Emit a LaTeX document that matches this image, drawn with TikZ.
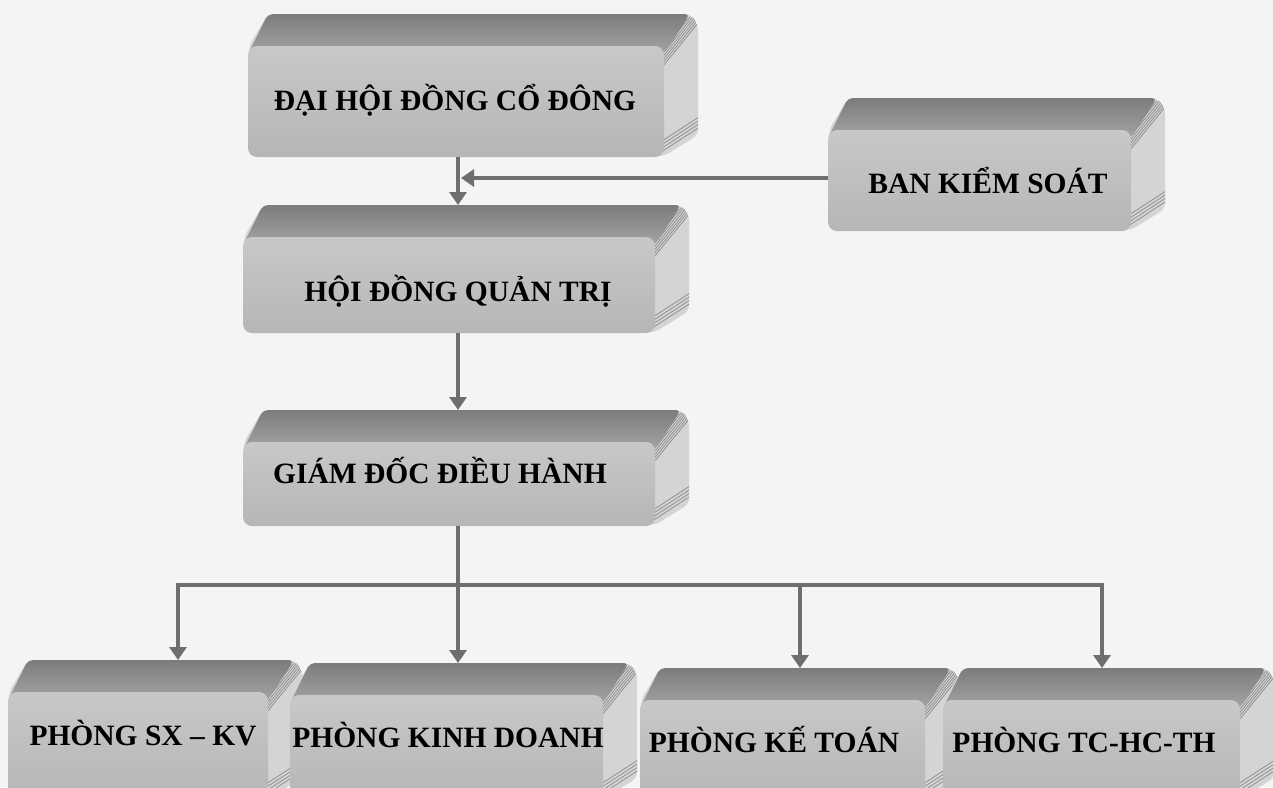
\documentclass[tikz,border=0pt]{standalone}
\usepackage{fontspec}
\setmainfont{Liberation Serif}
\usetikzlibrary{arrows.meta}
\definecolor{bgc}{HTML}{F4F4F2}
\definecolor{fronttop}{HTML}{C8C8C8}
\definecolor{frontbot}{HTML}{B6B6B6}
\definecolor{toptop}{HTML}{7C7C7C}
\definecolor{topbot}{HTML}{A4A4A4}
\definecolor{sidec}{HTML}{D4D4D4}
\definecolor{stripec}{HTML}{8A8A8A}
\definecolor{arrowc}{HTML}{6E6E6E}
\tikzset{
  sideface/.style={fill=sidec},
  topface/.style={top color=toptop, bottom color=topbot, draw=none},
  frontface/.style={top color=fronttop, bottom color=frontbot, rounded corners=9pt},
  stripe/.style={draw=stripec, line width=0.7pt},
  boxnode/.style={inner sep=0pt, outer sep=0pt, draw=none},
  lbl/.style={anchor=base, inner sep=0pt, font=\fontsize{29.5}{34}\selectfont\bfseries, text=black},
  conn/.style={draw=arrowc, line width=4.5pt},
  arr/.style={conn, -{Triangle[width=17pt,length=13pt]}},
}
% #1 name, #2 x1, #3 y1 (front top), #4 x2, #5 y2 (front bottom)
\newcommand{\bevelbox}[5]{%
  \begin{scope}
    \path[sideface,rounded corners=6pt] (#2+1,#5-1) -- (#2+1,#3) -- (#2+20,#3-32) -- (#4+26,#3-32) -- (#4+34,#3-22) -- (#4+34,#5-22) -- (#4,#5-1) -- cycle;
    \clip[rounded corners=6pt] (#4-4,#5) -- (#4-4,#3) -- (#4+26,#3-32) -- (#4+34,#3-22) -- (#4+34,#5-22) -- (#4,#5) -- cycle;
    \foreach \k in {1,...,6} \draw[stripe] (#4-6,{#3+3.2*\k+7}) -- ++(44,-54);
    \foreach \k in {1,...,4} \draw[stripe] (#4-2,{#5-3.5*\k-2}) -- ++(40,-26);
  \end{scope}
  \path[topface,rounded corners=5pt] (#2,#3+8) -- (#2+20,#3-32) -- (#4+26,#3-32) -- (#4,#3+8) -- cycle;
  \path[frontface] (#2,#3) rectangle (#4,#5);
  \node[boxnode, minimum width={#4+34-(#2)}, minimum height={#5-(#3)+32}] (#1) at ({(#2+#4+34)/2},{(#3+#5-32)/2}) {};
}
\begin{document}
\begin{tikzpicture}[x=1pt,y=-1pt]
  \useasboundingbox (0,0) rectangle (1273,787);
  \fill[bgc] (0,0) rectangle (1273,787);
  \begin{scope}
  \clip (0,0) rectangle (1273,787);
  % boxes
  \bevelbox{b1}{248}{46}{664}{157}
  \bevelbox{b2}{828}{130}{1131}{231}
  \bevelbox{b3}{243}{237}{655}{333}
  \bevelbox{b4}{243}{442}{655}{526}
  \bevelbox{bA}{8}{692}{268}{800}
  \bevelbox{bB}{290}{695}{603}{800}
  \bevelbox{bC}{640}{700}{925}{800}
  \bevelbox{bD}{943}{700}{1240}{800}
  % labels
  \node[lbl] (b1t) at (455,110) {ĐẠI HỘI ĐỒNG CỔ ĐÔNG};
  \node[lbl] (b2t) at (988,193) {BAN KIỂM SOÁT};
  \node[lbl] (b3t) at (458,301) {HỘI ĐỒNG QUẢN TRỊ};
  \node[lbl] (b4t) at (440,483) {GIÁM ĐỐC ĐIỀU HÀNH};
  \node[lbl] (bAt) at (143,745) {PHÒNG SX – KV};
  \node[lbl] (bBt) at (448,747) {PHÒNG KINH DOANH};
  \node[lbl] (bCt) at (774,752) {PHÒNG KẾ TOÁN};
  \node[lbl] (bDt) at (1084,752) {PHÒNG TC-HC-TH};
  % connector helpers
  \coordinate (spine) at (458,0);
  \coordinate (k) at (461,178);
  \coordinate (jA) at (178,585);
  \coordinate (jB) at (458,585);
  \coordinate (jC) at (800,585);
  \coordinate (jD) at (1102,585);
  % connectors
  \draw[arr] (b1.south -| spine) -- (b3.north -| spine);
  \draw[arr] (b2.west |- k) -- (k);
  \draw[arr] (b3.south -| spine) -- (b4.north -| spine);
  \draw[conn] (b4.south -| spine) -- (jB);
  \draw[conn, line cap=rect] (jA) -- (jD);
  \draw[arr] (jA) -- (jA |- bA.north);
  \draw[arr] (jB) -- (jB |- bB.north);
  \draw[arr] (jC) -- (jC |- bC.north);
  \draw[arr] (jD) -- (jD |- bD.north);
  \end{scope}
\end{tikzpicture}
\end{document}
